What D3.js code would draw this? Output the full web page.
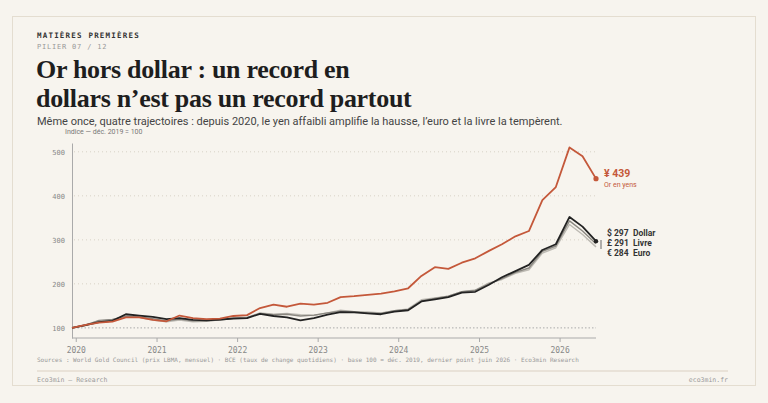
<!DOCTYPE html>
<html><head><meta charset="utf-8">
<script src="https://cdn.jsdelivr.net/npm/d3@7"></script>
<style>
body{margin:0;background:#f7f4ee;}
svg{display:block;}
</style></head>
<body>
<script>
// dates: every 2 months from dec. 2019 to june 2026
var months = d3.range(0, 40).map(function(i){ return new Date(2019, 11 + i*2, 15); });
var jpy = [100,107,112,114,124,124,118,115,128,122,120,121,127,129,145,153,148,155,153,157,170,172,175,178,183,190,218,238,234,248,258,275,290,308,320,390,420,510,490,439];
var usd = [100,106,113,116,131,128,125,120,122,118,117,119,121,122,132,127,124,117,122,130,136,135,133,131,137,140,160,165,170,180,182,198,215,229,243,277,290,352,330,297];
var eur = [100,107,115,118,128,124,118,114,118,114,115,119,123,124,134,131,133,130,128,134,140,137,136,134,139,143,164,168,172,182,186,202,210,224,232,270,282,335,312,284];
var gbp = [100,106,117,119,126,125,121,116,120,116,116,118,122,123,133,130,131,127,129,134,138,137,134,133,139,142,161,167,172,182,185,200,212,226,236,274,286,343,320,291];
var yTicks = [100,200,300,400,500];
var years = [2020,2021,2022,2023,2024,2025,2026];

var W = 768, H = 403;
var svg = d3.select("body").append("svg").attr("width", W).attr("height", H);

svg.append("rect").attr("x",12.5).attr("y",16.5).attr("width",743).attr("height",369)
  .attr("fill","#f7f4ee").attr("stroke","#e4ddd0");

var mono = "DejaVu Sans Mono, monospace";
svg.append("text").attr("x",37).attr("y",38).text("MATIÈRES PREMIÈRES")
  .attr("font-family",mono).attr("font-size",7.5).attr("font-weight","bold").attr("letter-spacing",1.2).attr("fill","#333");
svg.append("text").attr("x",37).attr("y",49).text("PILIER 07 / 12")
  .attr("font-family",mono).attr("font-size",7).attr("letter-spacing",0.8).attr("fill","#999");
["Or hors dollar : un record en","dollars n’est pas un record partout"].forEach(function(t,i){
  svg.append("text").attr("x",36).attr("y",78 + i*29).text(t)
    .attr("font-family","Liberation Serif, serif").attr("font-weight","bold").attr("font-size",26).attr("letter-spacing",-0.3).attr("fill","#1e1e1e");
});
svg.append("text").attr("x",37).attr("y",125).text("Même once, quatre trajectoires : depuis 2020, le yen affaibli amplifie la hausse, l’euro et la livre la tempèrent.")
  .attr("font-family","Roboto, sans-serif").attr("font-size",11).attr("fill","#444");
svg.append("text").attr("x",65).attr("y",134).text("Indice — déc. 2019 = 100")
  .attr("font-family","Roboto, sans-serif").attr("font-size",7).attr("fill","#777");

var x = d3.scaleTime().domain([new Date(2019,11,15), new Date(2026,5,15)]).range([72,596]);
var y = d3.scaleLinear().domain([77,520]).range([338,143]);

// grid
svg.append("g").selectAll("line").data(yTicks).join("line")
  .attr("x1",74).attr("x2",596).attr("y1",function(d){return y(d);}).attr("y2",function(d){return y(d);})
  .attr("stroke",function(d){return d===100?"#aaa":"#d8d2c6";}).attr("stroke-dasharray",d=>d===100?"1.5,2":"1,3");

var yAxis = svg.append("g").attr("transform","translate(72,0)")
  .call(d3.axisLeft(y).tickValues(yTicks).tickSize(0).tickPadding(7));
yAxis.select(".domain").attr("stroke","#aaa");
yAxis.selectAll("text").attr("font-family",mono).attr("font-size",7).attr("fill","#888");

var xAxis = svg.append("g").attr("transform","translate(0,338)")
  .call(d3.axisBottom(x).tickValues(years.map(function(yy){return new Date(yy,0,1);}))
  .tickFormat(d3.timeFormat("%Y")).tickSize(4).tickSizeOuter(0).tickPadding(5));
xAxis.select(".domain").attr("stroke","#aaa").attr("d","M72,0H596");
xAxis.selectAll("line").attr("stroke","#aaa");
xAxis.selectAll("text").attr("font-family",mono).attr("font-size",8).attr("fill","#888");

var line = d3.line().x(function(d,i){return x(months[i]);}).y(function(d){return y(d);});
var series = [
  {v:eur, c:"#bdbab3", w:1.4},
  {v:gbp, c:"#8a8780", w:1.4},
  {v:usd, c:"#222", w:1.8},
  {v:jpy, c:"#c4583a", w:1.8}
];
svg.append("g").selectAll("path").data(series).join("path")
  .attr("d",function(s){return line(s.v);}).attr("fill","none")
  .attr("stroke",function(s){return s.c;}).attr("stroke-width",function(s){return s.w;}).attr("stroke-linejoin","round");

var last = months.length - 1;
svg.append("circle").attr("cx",x(months[last])).attr("cy",y(jpy[last])).attr("r",2.6).attr("fill","#c4583a");
svg.append("circle").attr("cx",x(months[last])).attr("cy",y(usd[last])).attr("r",2.2).attr("fill","#222");

svg.append("text").attr("x",604).attr("y",177).text("¥ " + jpy[last])
  .attr("font-family","Roboto, sans-serif").attr("font-weight","bold").attr("font-size",10.5).attr("fill","#c4583a");
svg.append("text").attr("x",604).attr("y",187).text("Or en yens")
  .attr("font-family","Roboto, sans-serif").attr("font-size",7).attr("fill","#c4583a");

var labs = [["$",usd[last],"Dollar"],["£",gbp[last],"Livre"],["€",eur[last],"Euro"]];
labs.forEach(function(l,i){
  var t = svg.append("text").attr("x",607).attr("y",236 + i*9.8)
    .attr("font-family","Roboto, sans-serif").attr("font-weight","bold").attr("font-size",8.5).attr("fill","#333");
  t.append("tspan").text(l[0] + " " + l[1]);
  t.append("tspan").attr("x",633).text(l[2]);
});
svg.append("line").attr("x1",601).attr("x2",601).attr("y1",240).attr("y2",249).attr("stroke","#666").attr("stroke-width",1);

svg.append("text").attr("x",37).attr("y",362)
  .text("Sources : World Gold Council (prix LBMA, mensuel) · BCE (taux de change quotidiens) · base 100 = déc. 2019, dernier point juin 2026 · Eco3min Research")
  .attr("font-family",mono).attr("font-size",6).attr("fill","#999");
svg.append("line").attr("x1",37).attr("x2",728).attr("y1",371).attr("y2",371).attr("stroke","#e4ddd0").attr("stroke-width",1.5);
svg.append("text").attr("x",37).attr("y",382).text("Eco3min — Research")
  .attr("font-family",mono).attr("font-size",6.5).attr("fill","#999");
svg.append("text").attr("x",728).attr("y",382).attr("text-anchor","end").text("eco3min.fr")
  .attr("font-family",mono).attr("font-size",6.5).attr("fill","#999");
</script>
</body></html>
